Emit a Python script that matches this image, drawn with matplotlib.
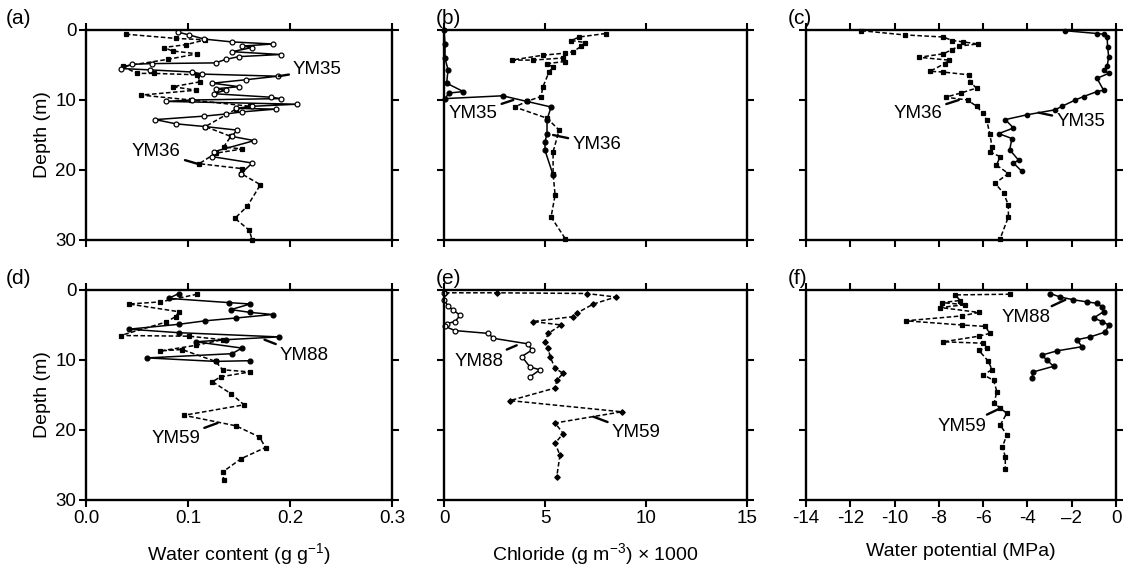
import matplotlib
matplotlib.use("Agg")
import matplotlib.pyplot as plt

plt.rcParams['font.family'] = ['Liberation Sans', 'DejaVu Sans']
plt.rcParams['mathtext.fontset'] = 'custom'
plt.rcParams['mathtext.rm'] = 'Liberation Sans'
plt.rcParams['mathtext.it'] = 'Liberation Sans'

# (a) water content, YM35 / YM36
a_ym35_wc = [0.090, 0.101, 0.116, 0.143, 0.183, 0.153, 0.163, 0.143, 0.191, 0.150, 0.137, 0.127,
             0.065, 0.045, 0.034, 0.063, 0.104, 0.114, 0.188, 0.157, 0.124, 0.150, 0.127, 0.137,
             0.125, 0.181, 0.191, 0.104, 0.078, 0.207, 0.163, 0.147, 0.186, 0.153, 0.137, 0.116,
             0.068, 0.088, 0.117, 0.148, 0.143, 0.165, 0.125, 0.124, 0.163, 0.152]
a_ym35_depth = [0.3, 0.7, 1.3, 1.7, 2.0, 2.3, 2.5, 3.1, 3.5, 3.8, 4.2, 4.7,
                4.8, 4.9, 5.5, 5.7, 6.0, 6.3, 6.6, 7.1, 7.6, 8.1, 8.4, 8.6,
                9.1, 9.6, 9.8, 10.0, 10.2, 10.6, 10.9, 11.2, 11.3, 11.7, 12.0, 12.3,
                12.8, 13.4, 13.8, 14.3, 15.2, 15.8, 17.4, 18.1, 19.0, 20.5]
a_ym36_wc = [0.039, 0.088, 0.117, 0.098, 0.076, 0.085, 0.109, 0.080, 0.036, 0.050, 0.067, 0.109,
             0.112, 0.085, 0.108, 0.054, 0.103, 0.161, 0.147, 0.117, 0.142, 0.135, 0.153, 0.127,
             0.111, 0.153, 0.152, 0.171, 0.158, 0.146, 0.160, 0.163]
a_ym36_depth = [0.6, 1.2, 1.4, 2.1, 2.5, 3.0, 3.4, 4.2, 5.2, 6.2, 6.2, 6.4,
                7.4, 8.1, 8.6, 9.3, 10.0, 10.9, 11.3, 13.8, 15.2, 16.7, 17.0, 17.6,
                19.1, 19.8, 20.5, 22.1, 25.2, 26.9, 28.6, 30.0]

# (b) chloride, YM35 / YM36
b_ym35_cl = [0.0, 0.05, 0.05, 0.2, 0.13, 0.96, 0.25, 0.05, 2.9, 4.1, 5.3, 5.1, 5.1, 5.0, 5.0, 5.4]
b_ym35_depth = [0.0, 2.0, 4.0, 5.7, 7.6, 8.8, 9.0, 9.8, 9.4, 10.2, 11.0, 12.8, 14.8, 16.0, 17.2, 20.7]
b_ym36_cl = [8.0, 6.7, 6.3, 7.0, 6.8, 6.4, 6.0, 4.9, 3.35, 4.4, 5.9, 6.0, 5.1, 5.4, 5.2, 4.9,
             4.8, 4.1, 3.5, 5.1, 5.7, 5.4, 5.4, 5.5, 5.3, 6.0]
b_ym36_depth = [0.5, 1.0, 1.5, 1.8, 2.3, 3.1, 3.3, 3.6, 4.3, 4.3, 4.0, 4.5, 4.8, 5.3, 6.0, 8.1,
                9.5, 10.2, 11.0, 12.6, 14.3, 17.4, 20.5, 23.6, 26.7, 29.8]

# (c) water potential, YM35 / YM36
c_ym35_psi = [-2.3, -0.86, -0.56, -0.4, -0.38, -0.33, -0.4, -0.56, -0.33, -0.86, -0.56, -0.86,
              -1.46, -1.84, -2.44, -2.75, -4.0, -5.0, -4.63, -5.3, -4.7, -4.8, -4.4, -4.63, -4.25]
c_ym35_depth = [0.1, 0.5, 0.6, 1.0, 2.4, 3.8, 5.2, 5.7, 6.2, 6.9, 8.6, 8.8,
                9.5, 10.0, 10.9, 11.4, 12.1, 12.8, 14.0, 14.8, 15.5, 17.1, 18.6, 19.0, 20.2]
c_ym36_psi = [-11.5, -9.55, -7.8, -7.4, -6.9, -6.24, -7.1, -7.4, -7.8, -8.9, -7.56, -7.74,
              -8.4, -7.83, -6.66, -6.6, -6.3, -7.0, -7.7, -6.7, -6.3, -6.0, -5.84, -5.7,
              -5.6, -5.7, -5.23, -5.4, -4.86, -5.46, -5.08, -4.86, -4.86, -5.23]
c_ym36_depth = [0.1, 0.7, 1.0, 1.5, 1.7, 2.0, 2.3, 2.8, 3.4, 3.9, 4.3, 4.8,
                5.9, 6.0, 6.4, 7.4, 8.3, 9.0, 9.6, 10.0, 10.9, 11.9, 12.9, 14.8,
                16.7, 17.4, 18.1, 19.3, 20.5, 21.9, 23.3, 25.0, 26.7, 29.8]

# (d) water content, YM88 / YM59
d_ym88_wc = [0.091, 0.081, 0.140, 0.161, 0.142, 0.161, 0.183, 0.147, 0.117, 0.091, 0.042, 0.091,
             0.189, 0.137, 0.108, 0.153, 0.143, 0.060, 0.127, 0.161]
d_ym88_depth = [0.5, 1.2, 1.8, 2.0, 2.8, 3.2, 3.5, 4.0, 4.4, 4.9, 5.6, 6.1,
                6.7, 7.1, 7.4, 8.3, 9.1, 9.7, 10.2, 10.1]
d_ym59_wc = [0.109, 0.073, 0.042, 0.091, 0.088, 0.078, 0.034, 0.101, 0.134, 0.108, 0.073, 0.094,
             0.127, 0.134, 0.161, 0.132, 0.124, 0.142, 0.155, 0.096, 0.147, 0.170, 0.176, 0.152,
             0.134, 0.135]
d_ym59_depth = [0.6, 1.7, 2.0, 3.1, 3.8, 4.6, 6.5, 6.6, 7.1, 7.9, 8.7, 8.5,
                10.2, 11.4, 11.7, 12.4, 13.1, 14.8, 16.4, 17.9, 19.4, 21.0, 22.5, 24.1,
                26.0, 27.1]

# (e) chloride, YM88 / YM59
e_ym88_cl = [0.0, 0.0, 0.2, 0.46, 0.8, 0.55, 0.15, 0.05, 0.55, 2.2, 2.44, 4.17, 4.34, 3.85,
             4.26, 4.75, 4.26]
e_ym88_depth = [0.4, 1.4, 2.3, 2.9, 3.6, 4.5, 4.8, 5.2, 5.8, 6.2, 6.9, 7.7, 8.6, 9.5,
                11.0, 11.4, 12.4]
e_ym59_cl = [0.05, 2.6, 7.06, 8.5, 7.4, 6.57, 6.4, 4.4, 5.8, 5.16, 5.0, 5.16, 5.25, 5.5, 5.9,
             5.58, 5.5, 3.27, 8.8, 5.5, 5.9, 5.5, 5.74, 5.58]
e_ym59_depth = [0.4, 0.4, 0.5, 1.0, 2.0, 3.3, 3.8, 4.5, 5.0, 6.2, 7.4, 8.3, 9.5, 11.2, 11.9,
                12.9, 14.0, 15.8, 17.4, 19.0, 20.5, 21.9, 23.6, 26.7]

# (f) water potential, YM88 / YM59
f_ym88_psi = [-2.97, -2.52, -1.92, -1.31, -0.86, -0.63, -0.56, -1.01, -0.63, -0.33, -0.48, -1.16,
              -1.76, -1.54, -2.67, -3.35, -3.12, -2.82, -3.73, -3.8]
f_ym88_depth = [0.5, 1.0, 1.4, 1.7, 1.9, 2.4, 3.1, 4.0, 4.5, 5.0, 6.0, 6.7,
                7.1, 8.1, 8.7, 9.3, 10.0, 10.9, 11.7, 12.6]
f_ym59_psi = [-4.78, -7.26, -7.04, -7.87, -6.8, -7.94, -6.2, -6.96, -9.5, -6.96, -5.9, -5.7,
              -6.2, -7.8, -6.0, -5.83, -6.2, -5.76, -5.6, -6.0, -5.53, -5.38, -5.5, -5.23,
              -4.93, -5.23, -4.93, -5.13, -5.0, -5.0]
f_ym59_depth = [0.6, 0.7, 1.5, 1.8, 2.1, 2.5, 3.2, 3.7, 4.4, 5.0, 5.2, 6.2,
                6.6, 7.4, 7.6, 8.3, 8.6, 10.2, 11.4, 12.1, 12.9, 14.5, 16.1, 16.9,
                17.6, 19.3, 20.7, 22.4, 23.8, 25.5]

depth_ticks = [0, 10, 20, 30]
wc_ticks = [0.0, 0.1, 0.2, 0.3]
wc_labels = ['0.0', '0.1', '0.2', '0.3']
cl_ticks = [0, 5, 10, 15]
cl_labels = ['0', '5', '10', '15']
psi_ticks = [-14, -12, -10, -8, -6, -4, -2, 0]
psi_labels = ['-14', '-12', '-10', '-8', '-6', '-4', '\u20132', '0']

W, H = 1126, 572
fig = plt.figure(figsize=(W / 100, H / 100), dpi=100)

col_px = [(86, 306), (444, 303), (806, 310)]
row_px = [(30, 240), (290, 500)]


def make_axes(r, c):
    x0, w = col_px[c]
    y0, y1 = row_px[r]
    ax = fig.add_axes([x0 / W, 1 - y1 / H, w / W, (y1 - y0) / H])
    for s in ax.spines.values():
        s.set_linewidth(1.7)
    ax.tick_params(direction='out', length=5, width=1.5, top=True, right=True,
                   labelsize=13.5, pad=2)
    ax.set_ylim(30, 0)
    ax.set_yticks(depth_ticks)
    if c == 0:
        ax.set_ylabel('Depth (m)', fontsize=14, labelpad=3)
    else:
        ax.set_yticklabels([])
    return ax


def profile(ax, x, y, solid, marker, filled=True, ms=3.5):
    ls = '-' if solid else (0, (3, 1.6))
    ax.plot(x, y, linestyle=ls, color='black', lw=1.1, marker=marker, ms=ms,
            mfc='black' if filled else 'white', mec='black', mew=0.9, clip_on=False)


def tag(ax, name, xy, xytext, ha='left'):
    ax.annotate(name, xy=xy, xytext=xytext, fontsize=13.5, ha=ha, va='center',
                arrowprops=dict(arrowstyle='-', lw=1.7, color='black', shrinkA=1, shrinkB=0))


panels = {}
for r in range(2):
    for c in range(3):
        panels[(r, c)] = make_axes(r, c)

for r in range(2):
    ax = panels[(r, 0)]
    ax.set_xlim(0, 0.3)
    ax.set_xticks(wc_ticks)
    ax = panels[(r, 1)]
    ax.set_xlim(0, 15)
    ax.set_xticks(cl_ticks)
    ax = panels[(r, 2)]
    ax.set_xlim(-14, 0)
    ax.set_xticks(psi_ticks)
    for c in range(3):
        if r == 0:
            panels[(r, c)].set_xticklabels([])
panels[(1, 0)].set_xticklabels(wc_labels)
panels[(1, 1)].set_xticklabels(cl_labels)
panels[(1, 2)].set_xticklabels(psi_labels)

# top row
ax = panels[(0, 0)]
profile(ax, a_ym36_wc, a_ym36_depth, False, 's', ms=3.0)
profile(ax, a_ym35_wc, a_ym35_depth, True, 'o', filled=False)
tag(ax, 'YM35', (0.189, 6.6), (0.203, 5.7))
tag(ax, 'YM36', (0.109, 19.1), (0.093, 17.4), ha='right')

ax = panels[(0, 1)]
profile(ax, b_ym36_cl, b_ym36_depth, False, 's')
profile(ax, b_ym35_cl, b_ym35_depth, True, 'o')
tag(ax, 'YM35', (3.43, 10.0), (2.65, 11.9), ha='right')
tag(ax, 'YM36', (5.4, 15.0), (6.35, 16.3))

ax = panels[(0, 2)]
profile(ax, c_ym36_psi, c_ym36_depth, False, 's')
profile(ax, c_ym35_psi, c_ym35_depth, True, 'o', ms=3.2)
tag(ax, 'YM36', (-7.1, 10.0), (-7.85, 11.9), ha='right')
tag(ax, 'YM35', (-3.5, 11.8), (-2.7, 13.1))

# bottom row
ax = panels[(1, 0)]
profile(ax, d_ym59_wc, d_ym59_depth, False, 's')
profile(ax, d_ym88_wc, d_ym88_depth, True, 'o')
tag(ax, 'YM88', (0.175, 7.1), (0.19, 9.3))
tag(ax, 'YM59', (0.129, 19.0), (0.112, 21.2), ha='right')

ax = panels[(1, 1)]
profile(ax, e_ym59_cl, e_ym59_depth, False, 'D', ms=2.8)
profile(ax, e_ym88_cl, e_ym88_depth, True, 'o', filled=False)
tag(ax, 'YM88', (3.6, 7.9), (2.95, 10.2), ha='right')
tag(ax, 'YM59', (7.4, 18.1), (8.3, 20.4))

ax = panels[(1, 2)]
profile(ax, f_ym59_psi, f_ym59_depth, False, 's')
profile(ax, f_ym88_psi, f_ym88_depth, True, 'o')
tag(ax, 'YM59', (-5.23, 16.9), (-5.85, 19.5), ha='right')
tag(ax, 'YM88', (-2.29, 1.4), (-2.95, 4.0), ha='right')

panels[(1, 0)].set_xlabel('Water content (g g$^{-1}$)', fontsize=14, labelpad=10)
panels[(1, 1)].set_xlabel('Chloride (g m$^{-3}$) \u00d7 1000', fontsize=14, labelpad=10)
panels[(1, 2)].set_xlabel('Water potential (MPa)', fontsize=14, labelpad=12)

letters = ['(a)', '(b)', '(c)', '(d)', '(e)', '(f)']
letter_px = [(6, 18), (436, 18), (788, 18), (6, 278), (436, 278), (788, 278)]
for lab, (px, py) in zip(letters, letter_px):
    fig.text(px / W, 1 - py / H, lab, fontsize=15, ha='left', va='center')

fig.savefig('out.png', dpi=100)
